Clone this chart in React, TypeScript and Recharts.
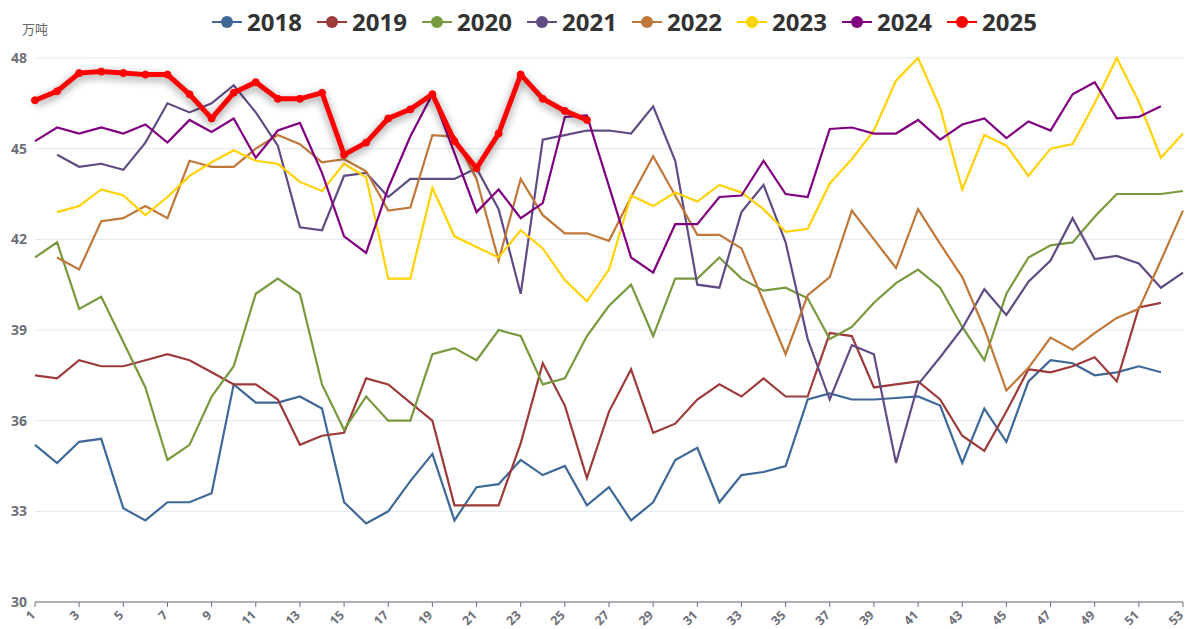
import React from "react";
import { CartesianGrid, Line, LineChart, XAxis, YAxis } from "recharts";

const WEEKS = [
  1, 2, 3, 4, 5, 6, 7, 8, 9, 10, 11, 12, 13, 14, 15, 16, 17, 18, 19, 20, 21, 22, 23, 24, 25, 26, 27,
  28, 29, 30, 31, 32, 33, 34, 35, 36, 37, 38, 39, 40, 41, 42, 43, 44, 45, 46, 47, 48, 49, 50, 51, 52, 53,
];

const Y2018 = [
  35.2, 34.6, 35.3, 35.4, 33.1, 32.7, 33.3, 33.3, 33.6, 37.2, 36.6, 36.6, 36.8, 36.4, 33.3, 32.6, 33.0,
  34.0, 34.9, 32.7, 33.8, 33.9, 34.7, 34.2, 34.5, 33.2, 33.8, 32.7, 33.3, 34.7, 35.1, 33.3, 34.2, 34.3,
  34.5, 36.7, 36.9, 36.7, 36.7, 36.75, 36.8, 36.5, 34.6, 36.4, 35.3, 37.3, 38.0, 37.9, 37.5, 37.6, 37.8,
  37.6, null,
];
const Y2019 = [
  37.5, 37.4, 38.0, 37.8, 37.8, 38.0, 38.2, 38.0, 37.6, 37.2, 37.2, 36.7, 35.2, 35.5, 35.6, 37.4, 37.2,
  36.6, 36.0, 33.2, 33.2, 33.2, 35.25, 37.9, 36.5, 34.1, 36.3, 37.7, 35.6, 35.9, 36.7, 37.2, 36.8, 37.4,
  36.8, 36.8, 38.9, 38.8, 37.1, 37.2, 37.3, 36.7, 35.5, 35.0, 36.3, 37.7, 37.6, 37.8, 38.1, 37.3, 39.75,
  39.9, null,
];
const Y2020 = [
  41.4, 41.9, 39.7, 40.1, 38.6, 37.1, 34.7, 35.2, 36.8, 37.8, 40.2, 40.7, 40.2, 37.2, 35.7, 36.8, 36.0,
  36.0, 38.2, 38.4, 38.0, 39.0, 38.8, 37.2, 37.4, 38.8, 39.8, 40.5, 38.8, 40.7, 40.7, 41.4, 40.7, 40.3,
  40.4, 40.05, 38.7, 39.1, 39.9, 40.55, 41.0, 40.4, 39.1, 38.0, 40.2, 41.4, 41.8, 41.9, 42.75, 43.5, 43.5,
  43.5, 43.6,
];
const Y2021 = [
  null, 44.8, 44.4, 44.5, 44.3, 45.2, 46.5, 46.2, 46.5, 47.1, 46.2, 45.1, 42.4, 42.3, 44.1, 44.2, 43.4,
  44.0, 44.0, 44.0, 44.35, 43.0, 40.2, 45.3, 45.45, 45.6, 45.6, 45.5, 46.4, 44.6, 40.5, 40.4, 42.9, 43.8,
  41.9, 38.7, 36.7, 38.5, 38.2, 34.6, 37.2, 38.1, 39.05, 40.35, 39.5, 40.6, 41.3, 42.7, 41.35, 41.45,
  41.2, 40.4, 40.9,
];
const Y2022 = [
  null, 41.4, 41.0, 42.6, 42.7, 43.1, 42.7, 44.6, 44.4, 44.4, 45.0, 45.45, 45.15, 44.55, 44.65, 44.25,
  42.95, 43.05, 45.45, 45.4, 44.0, 41.3, 44.0, 42.8, 42.2, 42.2, 41.95, 43.4, 44.75, 43.45, 42.15, 42.15,
  41.7, 39.95, 38.2, 40.15, 40.75, 42.95, 42.0, 41.05, 43.0, 41.85, 40.75, 39.05, 37.0, 37.75, 38.75,
  38.35, 38.9, 39.4, 39.7, 41.3, 42.95,
];
const Y2023 = [
  null, 42.9, 43.1, 43.65, 43.45, 42.8, 43.4, 44.1, 44.55, 44.95, 44.6, 44.5, 43.9, 43.6, 44.5, 44.05,
  40.7, 40.7, 43.7, 42.1, 41.75, 41.4, 42.3, 41.7, 40.65, 39.95, 41.0, 43.45, 43.1, 43.55, 43.25, 43.8,
  43.55, 43.0, 42.25, 42.35, 43.85, 44.65, 45.6, 47.25, 48.0, 46.35, 43.65, 45.45, 45.1, 44.1, 45.0,
  45.15, 46.5, 48.0, 46.55, 44.7, 45.5,
];
const Y2024 = [
  45.25, 45.7, 45.5, 45.7, 45.5, 45.8, 45.2, 45.95, 45.55, 46.0, 44.7, 45.6, 45.85, 44.2, 42.1, 41.55,
  43.7, 45.4, 46.8, 44.85, 42.9, 43.65, 42.7, 43.2, 46.05, 46.1, 43.75, 41.4, 40.9, 42.5, 42.5, 43.4,
  43.45, 44.6, 43.5, 43.4, 45.65, 45.7, 45.5, 45.5, 45.95, 45.3, 45.8, 46.0, 45.35, 45.9, 45.6, 46.8,
  47.2, 46.0, 46.05, 46.4, null,
];
const Y2025 = [
  46.6, 46.9, 47.5, 47.55, 47.5, 47.45, 47.45, 46.8, 46.0, 46.85, 47.2, 46.65, 46.65, 46.85, 44.8, 45.2,
  46.0, 46.3, 46.8, 45.25, 44.35, 45.5, 47.45, 46.65, 46.25, 45.95,
];

const Y_TICKS = [30, 33, 36, 39, 42, 45, 48];

const SERIES = [
  { key: "2018", values: Y2018, color: "#3e6898" },
  { key: "2019", values: Y2019, color: "#9c3b3a" },
  { key: "2020", values: Y2020, color: "#779a3e" },
  { key: "2021", values: Y2021, color: "#614b84" },
  { key: "2022", values: Y2022, color: "#c0773a" },
  { key: "2023", values: Y2023, color: "#ffd200" },
  { key: "2024", values: Y2024, color: "#800080" },
  { key: "2025", values: Y2025, color: "#ff0000" },
];

const data = WEEKS.map((week, i) => {
  const row: Record<string, number | string | null> = { week: String(week) };
  SERIES.forEach((s) => {
    row[s.key] = s.values[i] ?? null;
  });
  return row;
});

const AXIS_GREY = "#6e7079";

function LegendRow() {
  return (
    <div
      style={{
        position: "absolute",
        top: 8,
        left: 212,
        display: "flex",
        fontFamily: "'Noto Sans', sans-serif",
        fontWeight: 700,
        fontSize: 24,
        color: "#333",
        lineHeight: "28px",
      }}
    >
      {SERIES.map((s) => (
        <div key={s.key} style={{ display: "flex", alignItems: "center", width: 105 }}>
          <svg width={30} height={14} style={{ marginRight: 5 }}>
            <line x1={0} y1={7} x2={30} y2={7} stroke={s.color} strokeWidth={2} />
            <circle cx={15} cy={7} r={6} fill={s.color} />
          </svg>
          <span>{s.key}</span>
        </div>
      ))}
    </div>
  );
}

function UnitLabel({ viewBox }: any) {
  return (
    <text
      x={viewBox.x + viewBox.width}
      y={viewBox.y - 24}
      textAnchor="middle"
      fill="#666"
      fontSize={13}
      fontFamily="'Noto Sans CJK SC', sans-serif"
    >
      万吨
    </text>
  );
}

// rotated week label, its end sits just under the tick mark
function WeekTick({ x, y, payload }: any) {
  return (
    <g transform={`translate(${x + 1},${y + 7})`}>
      <text
        transform="rotate(-45)"
        textAnchor="end"
        fill={AXIS_GREY}
        fontSize={12.5}
        fontWeight={700}
        fontFamily="'Noto Sans', sans-serif"
      >
        {payload.value}
      </text>
    </g>
  );
}

export default function App() {
  return (
    <div style={{ position: "absolute", left: 0, top: 0, width: 1186, height: 629, background: "#fff" }}>
      <style>{`.line-2025 { filter: drop-shadow(0px 3px 4px rgba(0,0,0,0.45)); }`}</style>
      <LineChart
        width={1186}
        height={629}
        data={data}
        margin={{ top: 58, right: 3, left: 0, bottom: 0 }}
      >
        <CartesianGrid vertical={false} stroke="#e0e6f1" />
        <XAxis
          dataKey="week"
          interval={1}
          height={27}
          tickSize={5}
          stroke={AXIS_GREY}
          tick={<WeekTick />}
        />
        <YAxis
          domain={[30, 48]}
          ticks={Y_TICKS}
          width={35}
          axisLine={false}
          tickLine={false}
          tickSize={6}
          tick={{ fill: AXIS_GREY, fontSize: 14, fontWeight: 700, fontFamily: "'Noto Sans', sans-serif" }}
          label={<UnitLabel />}
        />
        {SERIES.map((s) =>
          s.key === "2025" ? (
            <Line
              key={s.key}
              className="line-2025"
              dataKey={s.key}
              stroke={s.color}
              strokeWidth={5}
              dot={{ r: 3.5, fill: s.color, stroke: s.color, strokeWidth: 1 }}
              isAnimationActive={false}
            />
          ) : (
            <Line
              key={s.key}
              dataKey={s.key}
              stroke={s.color}
              strokeWidth={2.2}
              dot={false}
              isAnimationActive={false}
            />
          ),
        )}
      </LineChart>
      <LegendRow />
    </div>
  );
}
